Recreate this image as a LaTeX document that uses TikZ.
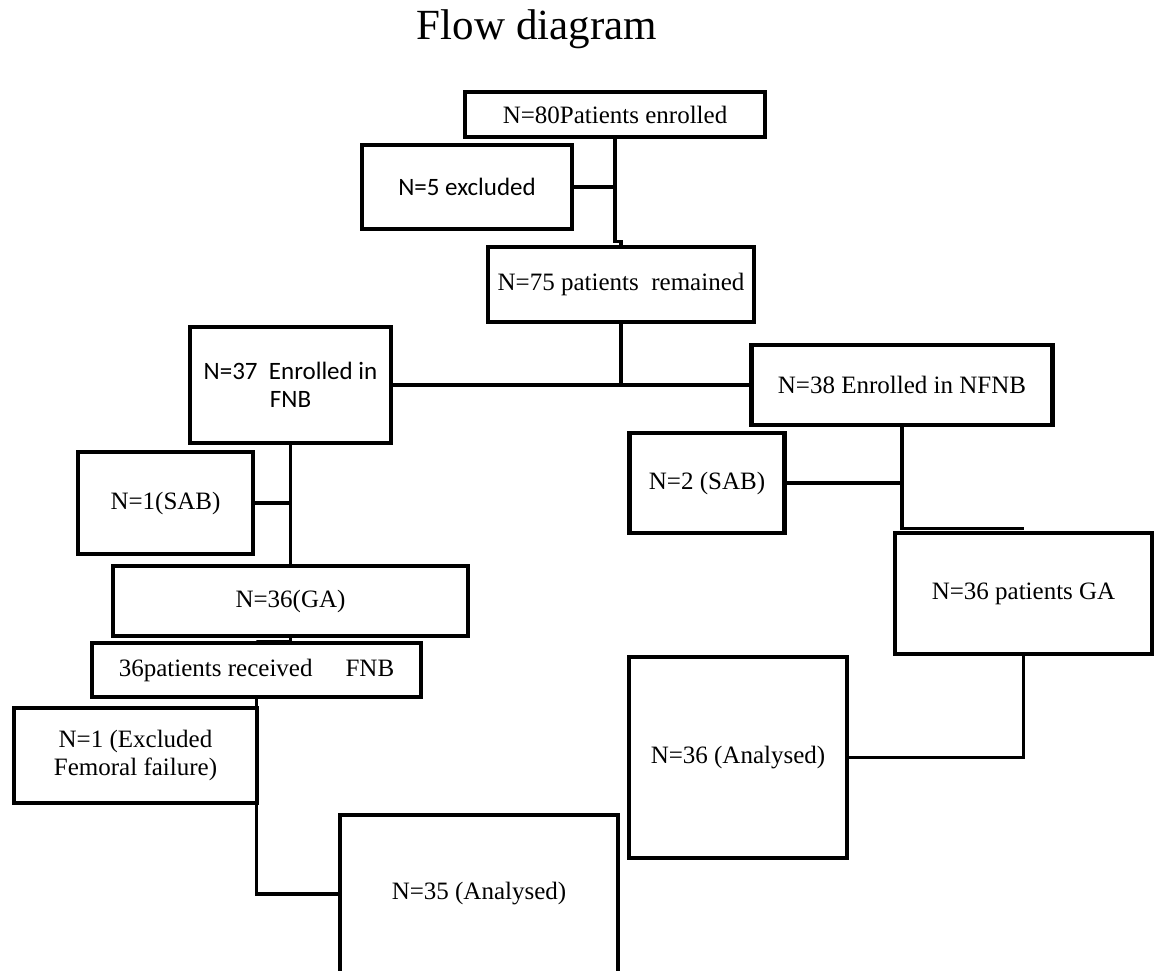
\documentclass[tikz,border=0pt]{standalone}
\usepackage{fontspec}
\setmainfont{Liberation Serif}
\newfontfamily\calibri{Carlito}
\usetikzlibrary{calc}
\begin{document}
\begin{tikzpicture}[x=1pt,y=-1pt,
  box/.style={draw, line width=4.8pt, fill=white, inner sep=0pt, align=center,
    font=\fontsize{25}{28}\selectfont},
  sans/.style={font=\calibri\fontsize{25}{28}\selectfont},
  link/.style={line width=3.2pt}]
  \useasboundingbox (0,0) rectangle (1162,971);
  \clip (0,0) rectangle (1162,971);
  % Title
  \node[anchor=base, font=\fontsize{43}{50}\selectfont] (title) at (537,40) {Flow diagram};

  % Boxes
  \node[box, minimum width=300, minimum height=45] (enrol) at (615,114.5) {N=80Patients enrolled};
  \node[box, sans, minimum width=210, minimum height=84] (excl) at (467,187) {N=5 excluded};
  \node[box, minimum width=266, minimum height=75] (remain) at (621,284.5) {N=75 patients\ \ remained};
  \node[box, sans, minimum width=201, minimum height=116] (fnb) at (290.5,385) {N=37\ \ Enrolled in\\FNB};
  \node[box, minimum width=301, minimum height=80] (nfnb) at (902,385) {N=38 Enrolled in NFNB};
  \node[box, minimum width=175, minimum height=102] (sabA) at (165.5,503) {N=1(SAB)};
  \node[box, minimum width=155, minimum height=100] (sabB) at (707,483) {N=2 (SAB)};
  \node[box, minimum width=355, minimum height=70] (gaA) at (290.5,601) {N=36(GA)};
  \node[box, minimum width=329, minimum height=54] (recv) at (256.5,670) {36patients received\hspace{33pt}FNB};
  \node[box, minimum width=257, minimum height=121] (gaB) at (1023.5,593.5) {N=36 patients GA};
  \node[box, minimum width=218, minimum height=201] (anaB) at (738,757.5) {N=36 (Analysed)};
  \node[box, minimum width=243, minimum height=95] (fail) at (135.5,755.5) {N=1 (Excluded\\Femoral failure)};
  \node[box, minimum width=278, minimum height=158] (anaA) at (479,894) {N=35 (Analysed)};

  % Connectors
  \draw[link] (enrol.south) |- ($(remain.north)+(0,-3)$) -- (remain.north);
  \draw[link] (excl.east) -- (excl.east -| enrol.south);
  \draw[link] (remain.south) -- (remain.south |- fnb.east);
  \draw[link] (fnb.east) -- (nfnb.west);
  \draw[link] (fnb.south) -- (fnb.south |- gaA.north);
  \draw[link] (sabA.east) -- (sabA.east -| fnb.south);
  \draw[link] (gaA.south) -- ++(0,3) -| (recv.north);
  \draw[link] (recv.south) |- (anaA.west);
  \draw[link] (nfnb.south) |- ($(gaB.north)+(0,-2)$);
  \draw[link] (sabB.east) -- (sabB.east -| nfnb.south);
  \draw[link] (gaB.south) |- (anaB.east);
\end{tikzpicture}
\end{document}
